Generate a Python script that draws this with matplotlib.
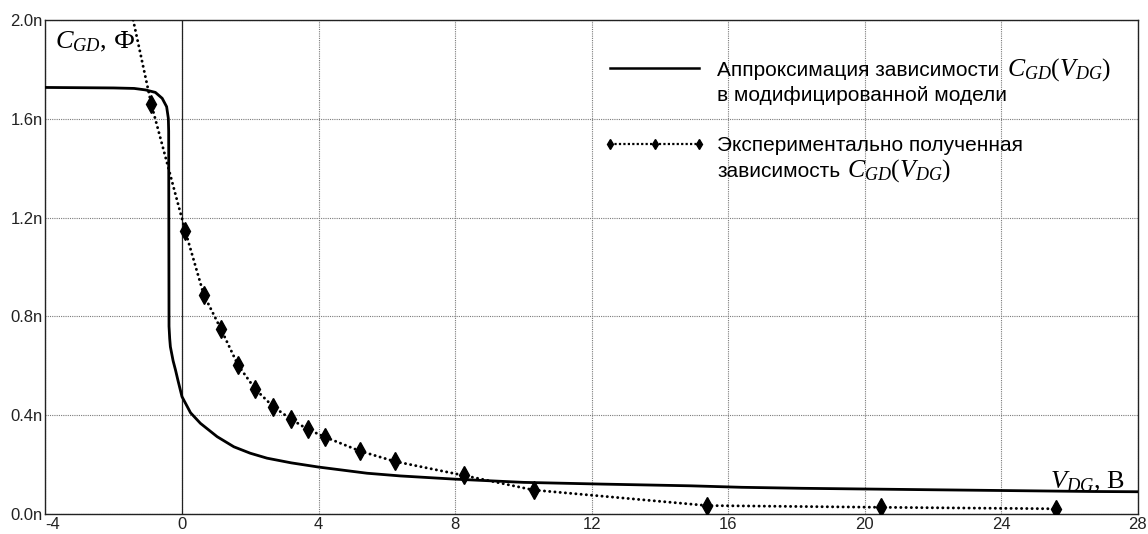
import numpy as np
import matplotlib
matplotlib.use('Agg')
import matplotlib.pyplot as plt
from matplotlib.lines import Line2D

#%% Data (capacitance in nF, voltage in V)
## Approximation of C_GD(V_DG) in the modified model
v_model = [-4.0, -2.0, -1.4, -1.07, -0.78, -0.58, -0.45, -0.40, -0.39, -0.38,
           -0.36, -0.34, -0.26, -0.19, -0.12, 0.0, 0.25, 0.54, 1.03, 1.52,
           2.0, 2.49, 3.2, 4.0, 5.42, 6.4, 8.0, 10.0, 12.3, 14.9,
           16.4, 18.15, 22.0, 26.7, 28.0]
c_model = [1.727, 1.725, 1.723, 1.717, 1.707, 1.683, 1.649, 1.602, 1.55, 0.76,
           0.71, 0.677, 0.62, 0.583, 0.542, 0.475, 0.41, 0.367, 0.313, 0.272,
           0.246, 0.226, 0.207, 0.190, 0.165, 0.154, 0.141, 0.128, 0.121, 0.114,
           0.108, 0.104, 0.098, 0.091, 0.090]

## Measured C_GD(V_DG)
v_exp = [-0.90, 0.10, 0.64, 1.14, 1.64, 2.15, 2.67, 3.18, 3.68, 4.20,
         5.21, 6.23, 8.26, 10.30, 15.39, 20.48, 25.62]
c_exp = [1.660, 1.144, 0.887, 0.749, 0.603, 0.505, 0.435, 0.385, 0.343, 0.311,
         0.255, 0.213, 0.156, 0.097, 0.034, 0.027, 0.021]
## the dotted trend continues up past the first point
v_exp_top = [-1.43]
c_exp_top = [2.0]

xticks = np.arange(-4, 29, 4)
yticks = [0.0, 0.4, 0.8, 1.2, 1.6, 2.0]

label_model = ('Аппроксимация зависимости', 'в модифицированной модели')
label_exp = ('Экспериментально полученная', 'зависимость')
label_math = '$C_{GD}\\mathit{(}V_{DG}\\mathit{)}$'

#%% Style
plt.rcParams['font.family'] = ['Liberation Sans', 'DejaVu Sans']
plt.rcParams['mathtext.fontset'] = 'custom'
plt.rcParams['mathtext.it'] = 'Liberation Serif:italic'
plt.rcParams['mathtext.rm'] = 'Liberation Serif'
plt.rcParams['axes.unicode_minus'] = False

#%% Plot
f = plt.figure(figsize=(11.48, 5.34), dpi=100)
ax = f.add_axes([0.0396, 0.0375, 0.9514, 0.925])

ax.set_xlim(-4, 28)
ax.set_ylim(0, 2.0)

ax.set_xticks(xticks)
ax.set_xticklabels([str(x) for x in xticks])
ax.set_yticks(yticks)
ax.set_yticklabels([f'{y:.1f}n' for y in yticks])
ax.tick_params(length=0, labelsize=12, colors='#222222')
ax.tick_params(axis='x', pad=2.5)
ax.tick_params(axis='y', pad=2)
ax.get_xticklabels()[0].set_horizontalalignment('left')

ax.grid(True, color='#7a7a7a', linestyle=(0, (1, 1)), linewidth=0.8)
ax.set_axisbelow(True)
for s in ax.spines.values():
    s.set_color('#222222')
    s.set_linewidth(1.0)
ax.axvline(0, color='#222222', linewidth=0.9, zorder=1.5)

ax.plot(v_model, c_model, color='black', linewidth=2.0, zorder=3)
ax.plot(v_exp_top + v_exp, c_exp_top + c_exp, color='black', linewidth=2.1,
        linestyle=(0, (0.05, 1.75)), dash_capstyle='round', zorder=3)
ax.plot(v_exp, c_exp, color='black', linestyle='none', marker='d',
        markersize=9, zorder=4)

## axis captions
ax.text(0.0087, 0.943, '$C_{GD}$, Ф', transform=ax.transAxes,
        fontsize=19, family='Liberation Serif', ha='left', va='baseline')
ax.text(0.988, 0.052, '$V_{DG}$, В', transform=ax.transAxes,
        fontsize=19, family='Liberation Serif', ha='right', va='baseline')

## legend, one row per text line
blank = Line2D([], [], linestyle='none')
h_model = Line2D([], [], color='black', linewidth=1.8)
h_exp = Line2D([], [], color='black', linewidth=1.6, linestyle=(0, (1, 1)),
               marker='d', markersize=5)
leg = ax.legend(
    [h_model, blank, blank, h_exp, blank],
    [label_model[0], label_model[1], ' ', label_exp[0], label_exp[1]],
    loc='upper left', bbox_to_anchor=(0.511, 0.918), frameon=False,
    fontsize=15, numpoints=3, handlelength=4.9, handletextpad=0.56,
    labelspacing=0.3, borderpad=0, borderaxespad=0,
)
## italic symbol after the first and last legend lines
## (zorder above the legend so its texts are placed first)
for t in (leg.get_texts()[0], leg.get_texts()[4]):
    ax.annotate(label_math, xy=(1, 0), xycoords=t, xytext=(5, 3.2),
                textcoords='offset points', ha='left', va='baseline',
                fontsize=18.5, zorder=6)

f.savefig('out.png', dpi=100)
